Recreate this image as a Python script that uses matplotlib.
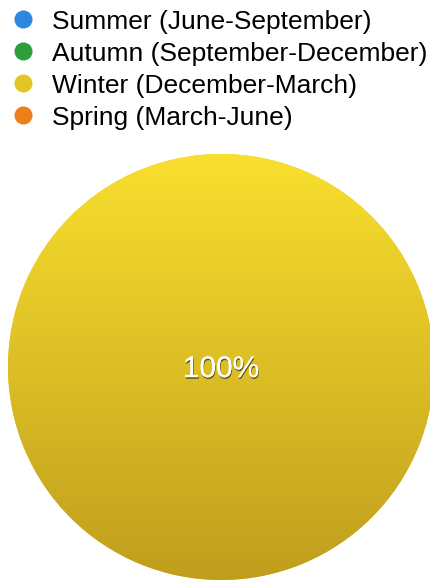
import numpy as np
import matplotlib
matplotlib.use("Agg")
import matplotlib.pyplot as plt
from matplotlib.lines import Line2D
from matplotlib.colors import LinearSegmentedColormap
import matplotlib.patheffects as pe

seasons = ["Summer (June-September)", "Autumn (September-December)",
           "Winter (December-March)", "Spring (March-June)"]
values = [0, 0, 100, 0]
colors_top = ["#3E95EA", "#36AA45", "#F9DF2E", "#F28C22"]
colors_bottom = ["#2277CF", "#22902F", "#C09E1D", "#DE7112"]
colors_mid = ["#2F86DE", "#2E9E3C", "#E4C527", "#EC7F1A"]

W, H = 431, 580
fig = plt.figure(figsize=(W/100, H/100), dpi=100)
ax = fig.add_axes([8/W, 0, 426/W, 426/H])

nz = [i for i, v in enumerate(values) if v > 0]
wedges, _ = ax.pie([values[i] for i in nz], colors=[colors_mid[i] for i in nz],
                   startangle=90, counterclock=False, radius=1,
                   wedgeprops=dict(linewidth=0))
grad = np.linspace(0, 1, 256).reshape(-1, 1)
for w, i in zip(wedges, nz):
    cmap = LinearSegmentedColormap.from_list("g", [colors_top[i], colors_bottom[i]])
    im = ax.imshow(grad, cmap=cmap, extent=(-1, 1, -1, 1), origin="upper",
                   aspect="auto", zorder=2)
    im.set_clip_path(w)
ax.set_xlim(-1, 1)
ax.set_ylim(-1, 1)
ax.set_aspect("equal")
ax.axis("off")

total = sum(values)
for i in nz:
    pct = values[i] / total * 100
    t = ax.text(0, -0.01, f"{pct:.0f}%", ha="center", va="center", color="white",
                fontsize=21.5, family="Liberation Sans", zorder=5)
    t.set_path_effects([pe.withSimplePatchShadow(offset=(0.5, -1.2), shadow_rgbFace="#3a3000", alpha=0.7),
                        pe.Normal()])

# legend
for k, (lab, c) in enumerate(zip(seasons, colors_mid)):
    yc = 1 - (19 + 32 * k) / H
    fig.add_artist(Line2D([23/W], [yc], marker="o", markersize=13, linestyle="none",
                          markerfacecolor=c, markeredgewidth=0, transform=fig.transFigure))
    fig.text(52/W, yc, lab, ha="left", va="center_baseline", fontsize=19,
             family="Liberation Sans", color="black")

fig.savefig("out.png", dpi=100)
